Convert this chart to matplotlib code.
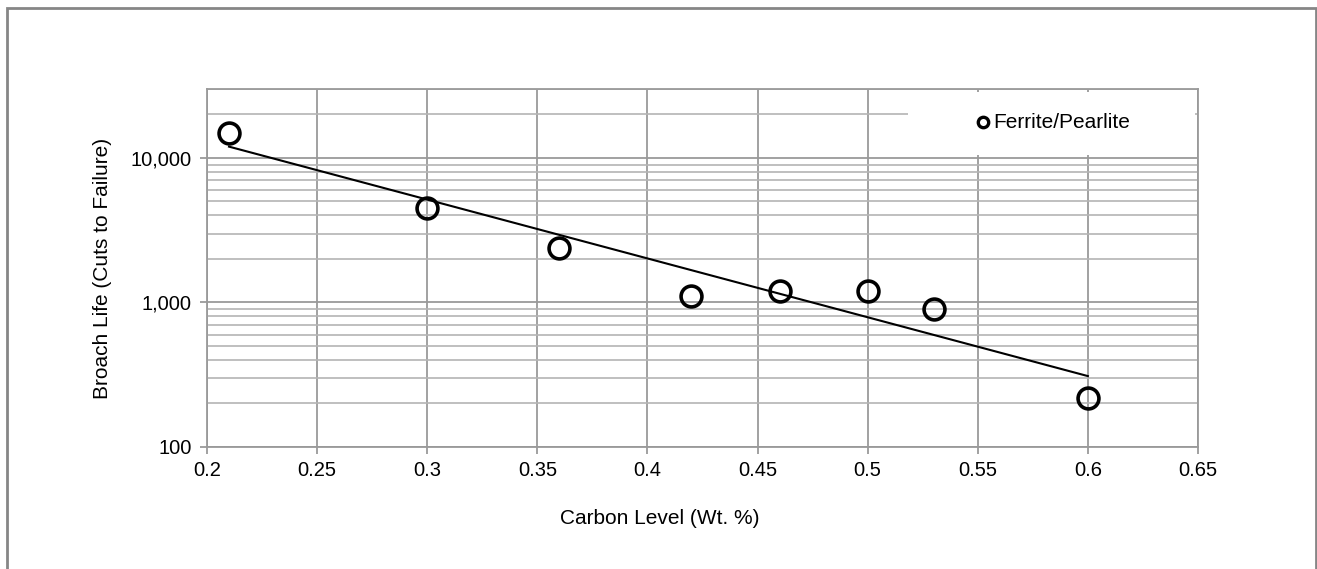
import matplotlib.pyplot as plt
import numpy as np
from matplotlib.patches import Rectangle
from matplotlib.ticker import FixedLocator, FuncFormatter

plt.rcParams["font.family"] = ["Liberation Sans", "DejaVu Sans"]

carbon = [0.21, 0.30, 0.36, 0.42, 0.46, 0.50, 0.53, 0.60]
broach_life = [15000, 4500, 2400, 1100, 1200, 1200, 900, 220]
x_ticks = [0.2, 0.25, 0.3, 0.35, 0.4, 0.45, 0.5, 0.55, 0.6, 0.65]
y_ticks = [100, 1000, 10000]

GRID = "#9a9a9a"
GRID_MINOR = "#b4b4b4"
W, H = 1317, 569

fig = plt.figure(figsize=(W / 100, H / 100), dpi=100)
ax = fig.add_axes([207 / W, 1 - 447 / H, (1198 - 207) / W, (447 - 89) / H])

# figure frame, bottom edge falls outside the crop
fig.patches.append(Rectangle((7 / W, -0.01), (1316 - 7) / W, 1 - 8 / H + 0.01,
                             transform=fig.transFigure, fill=False,
                             edgecolor="#868686", linewidth=2))

ax.set_yscale("log")
ax.set_xlim(0.2, 0.65)
ax.set_ylim(100, 30000)

ax.xaxis.set_major_locator(FixedLocator(x_ticks))
ax.xaxis.set_major_formatter(FuncFormatter(lambda v, p: f"{v:g}"))
ax.yaxis.set_major_locator(FixedLocator(y_ticks))
ax.yaxis.set_major_formatter(FuncFormatter(lambda v, p: f"{v:,.0f}"))
minor = [m * d for d in (100, 1000, 10000) for m in range(2, 10)]
ax.yaxis.set_minor_locator(FixedLocator(minor))
ax.yaxis.set_minor_formatter(FuncFormatter(lambda v, p: ""))

ax.grid(True, axis="x", which="major", color=GRID, linewidth=1.3, zorder=0)
ax.grid(True, axis="y", which="major", color=GRID, linewidth=1.3, zorder=0)
ax.grid(True, axis="y", which="minor", color=GRID_MINOR, linewidth=1.2, zorder=0)

for side in ("left", "bottom", "top", "right"):
    ax.spines[side].set_color(GRID)
    ax.spines[side].set_linewidth(1.3)

ax.tick_params(axis="both", which="major", direction="out", length=5, width=1.3,
               color=GRID, labelsize=14.5)
ax.tick_params(axis="y", which="major", pad=6)
ax.tick_params(axis="x", which="major", pad=5)
ax.tick_params(axis="y", which="minor", length=0)

# exponential trendline (straight on log axis), least squares on log10
coef = np.polyfit(carbon, np.log10(broach_life), 1)
xt = np.array([min(carbon), max(carbon)])
ax.plot(xt, 10 ** np.polyval(coef, xt), color="black", linewidth=1.5, zorder=3)

ax.plot(carbon, broach_life, linestyle="none", marker="o", markersize=15,
        markerfacecolor="none", markeredgecolor="black", markeredgewidth=2.6,
        zorder=4, clip_on=False)

fig.text(660 / W, 1 - 519 / H, "Carbon Level (Wt. %)", fontsize=15,
         ha="center", va="center")
fig.text(103 / W, 1 - 268 / H, "Broach Life (Cuts to Failure)", fontsize=15,
         ha="center", va="center", rotation=90)

# legend box: white patch with no border, covers the gridlines behind it
ax.add_patch(Rectangle((908 / W, 1 - 155 / H), (1195 - 908) / W, (155 - 92) / H,
                       transform=fig.transFigure, facecolor="white", edgecolor="none",
                       zorder=5))
fig.lines.append(plt.Line2D([983 / W], [1 - 122 / H], transform=fig.transFigure,
                            marker="o", markersize=7.5, markerfacecolor="none",
                            markeredgecolor="black", markeredgewidth=2.4, zorder=6))
fig.text(993 / W, 1 - 122 / H, "Ferrite/Pearlite", fontsize=15, va="center",
         ha="left", zorder=6)

fig.savefig("out.png", dpi=100)
